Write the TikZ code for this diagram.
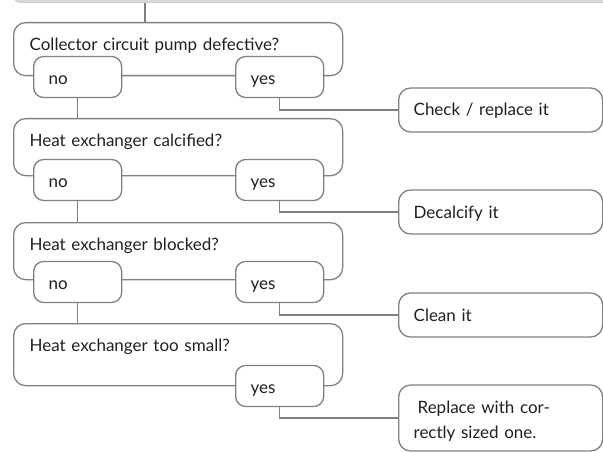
\documentclass[tikz,border=0pt]{standalone}
\usepackage{fontspec}
\setmainfont{Lato}
\usepackage{tikz}
\usepackage{xcolor}
\definecolor{linegray}{RGB}{128,128,128}
\definecolor{bargray}{RGB}{216,216,216}
\definecolor{txtgray}{RGB}{35,31,32}

\begin{document}
\begin{tikzpicture}[x=1pt,y=-1pt,
  every node/.style={text=txtgray,font=\fontsize{17}{25}\selectfont},
  qbox/.style={draw=linegray,line width=1.3pt,rounded corners=12pt,anchor=north west,inner xsep=16pt,inner ysep=0pt,text width=297pt,align=left,text height=28pt,text depth=29pt},
  ans/.style={draw=linegray,fill=white,line width=1.3pt,rounded corners=10pt,anchor=west,inner xsep=15pt,inner ysep=0pt,text width=58pt,align=left,text height=28pt,text depth=13pt},
  act/.style={draw=linegray,fill=white,line width=1.3pt,rounded corners=12pt,anchor=west,inner xsep=15pt,inner ysep=0pt,text width=174pt,align=left,text height=28pt,text depth=16pt},
  link/.style={draw=linegray,line width=1.3pt}]
\useasboundingbox (0,0) rectangle (603,452);
\node[draw=gray!55,fill=bargray,rounded corners=8pt,anchor=south west,minimum width=620pt,minimum height=30pt] (header) at (13,3) {};
\node[qbox,text depth=25pt] (q1) at (13,22) {Collector circuit pump defective?};
\node[qbox] (q2) at (13,118) {Heat exchanger calcified?};
\node[qbox] (q3) at (13,222) {Heat exchanger blocked?};
\node[qbox,text depth=34pt] (q4) at (13,323) {Heat exchanger too small?};
\node[ans] (no1) at (33,77) {no};
\node[ans] (yes1) at (235,77) {yes};
\node[ans] (no2) at (33,180) {no};
\node[ans] (yes2) at (235,180) {yes};
\node[ans] (no3) at (33,282) {no};
\node[ans] (yes3) at (235,282) {yes};
\node[ans] (yes4) at (235,386) {yes};
\node[act] (check) at (398,110) {Check / replace it};
\node[act] (decalc) at (398,212) {Decalcify it};
\node[act] (clean) at (398,315) {Clean it};
\node[act,text depth=38pt] (repl) at (398,418) {\hspace*{4pt}Replace with cor-\\rectly sized one.};
\coordinate (h1) at (145,3);
\draw[link] (h1) -- (h1 |- q1.north);
\draw[link] (no1.south) -- (no1.south |- q2.north);
\draw[link] (no2.south) -- (no2.south |- q3.north);
\draw[link] (no3.south) -- (no3.south |- q4.north);
\draw[link] (yes1.south) |- (check.west);
\draw[link] (yes2.south) |- (decalc.west);
\draw[link] (yes3.south) |- (clean.west);
\draw[link] (yes4.south) |- (repl.west);
\end{tikzpicture}
\end{document}
